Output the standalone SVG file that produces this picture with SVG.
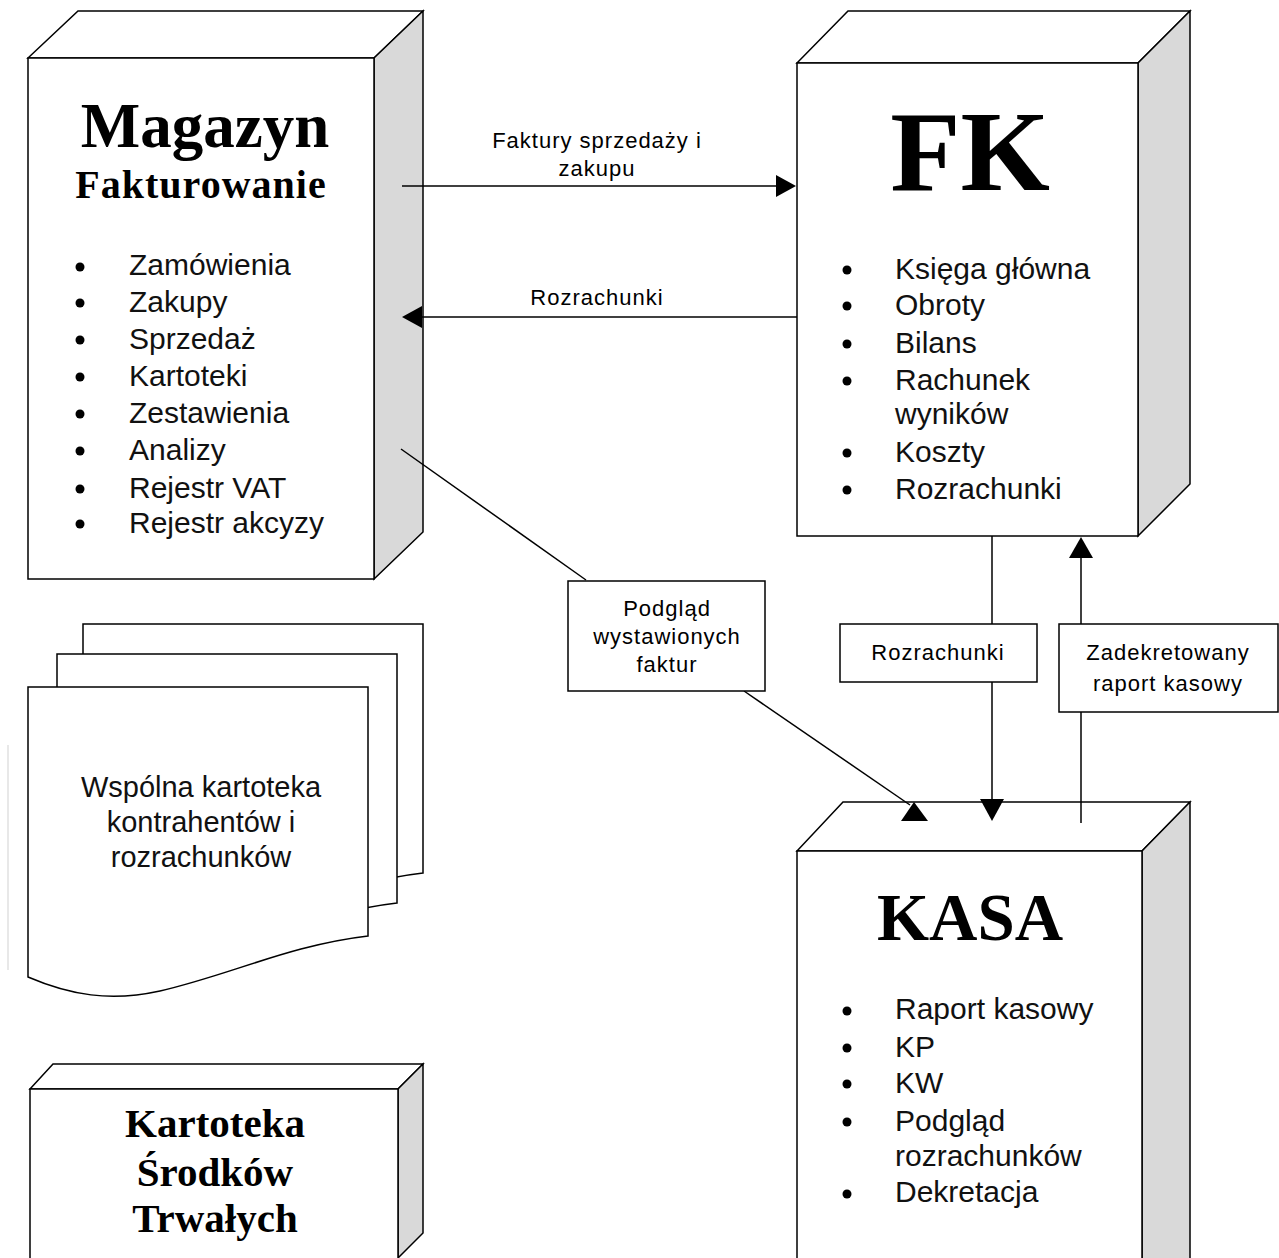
<svg xmlns="http://www.w3.org/2000/svg" width="1279" height="1258" viewBox="0 0 1279 1258">
<style>
.face{fill:#fff;stroke:#000;stroke-width:1.5}
.side{fill:#d9d9d9;stroke:#000;stroke-width:1.5}
.title{font-family:"Liberation Serif",serif;font-weight:bold;fill:#000;text-anchor:middle}
.item{font-family:"Liberation Sans",Arial,sans-serif;font-size:30px;fill:#111}
.lbl{font-family:"Liberation Sans",Arial,sans-serif;font-size:22px;letter-spacing:1px;fill:#000;text-anchor:middle}
.doc{font-family:"Liberation Sans",Arial,sans-serif;font-size:29px;fill:#111;text-anchor:middle}
.line{stroke:#000;stroke-width:1.5;fill:none}
.lbox{fill:#fff;stroke:#000;stroke-width:1.5}
.head{fill:#000}
</style>
<rect width="1279" height="1258" fill="#fff"/>
<line x1="8" y1="745" x2="8" y2="970" stroke="#e0e0e0" stroke-width="1.5"/>

<g id="magazyn">
<polygon class="face" points="28,58 78,11 423,11 374,58"/>
<polygon class="side" points="374,58 423,11 423,532 374,579"/>
<rect class="face" x="28" y="58" width="346" height="521"/>
<text class="title" x="205" y="147" font-size="63">Magazyn</text>
<text class="title" x="201" y="198" font-size="40" letter-spacing="1">Fakturowanie</text>
<g fill="#000">
<circle cx="80" cy="267" r="4.5"/><circle cx="80" cy="303" r="4.5"/><circle cx="80" cy="340" r="4.5"/><circle cx="80" cy="377" r="4.5"/>
<circle cx="80" cy="414" r="4.5"/><circle cx="80" cy="451" r="4.5"/><circle cx="80" cy="489" r="4.5"/><circle cx="80" cy="524" r="4.5"/>
</g>
<text class="item" x="129" y="275">Zamówienia</text>
<text class="item" x="129" y="312">Zakupy</text>
<text class="item" x="129" y="349">Sprzedaż</text>
<text class="item" x="129" y="386">Kartoteki</text>
<text class="item" x="129" y="423">Zestawienia</text>
<text class="item" x="129" y="460">Analizy</text>
<text class="item" x="129" y="498">Rejestr VAT</text>
<text class="item" x="129" y="533">Rejestr akcyzy</text>
</g>

<g id="fk">
<polygon class="face" points="797,63 848,11 1190,11 1138,63"/>
<polygon class="side" points="1138,63 1190,11 1190,484 1138,536"/>
<rect class="face" x="797" y="63" width="341" height="473"/>
<text class="title" x="970" y="190" font-size="115">FK</text>
<g fill="#000">
<circle cx="847" cy="270" r="4.5"/><circle cx="847" cy="306" r="4.5"/><circle cx="847" cy="344" r="4.5"/><circle cx="847" cy="381" r="4.5"/>
<circle cx="847" cy="453" r="4.5"/><circle cx="847" cy="490" r="4.5"/>
</g>
<text class="item" x="895" y="279">Księga główna</text>
<text class="item" x="895" y="315">Obroty</text>
<text class="item" x="895" y="353">Bilans</text>
<text class="item" x="895" y="390">Rachunek</text>
<text class="item" x="895" y="424">wyników</text>
<text class="item" x="895" y="462">Koszty</text>
<text class="item" x="895" y="499">Rozrachunki</text>
</g>

<g id="kasa">
<polygon class="face" points="797,851 843,802 1190,802 1142,851"/>
<polygon class="side" points="1142,851 1190,802 1190,1262 1142,1262"/>
<rect class="face" x="797" y="851" width="345" height="412"/>
<text class="title" x="970" y="940" font-size="67">KASA</text>
<g fill="#000">
<circle cx="847" cy="1011" r="4.5"/><circle cx="847" cy="1048" r="4.5"/><circle cx="847" cy="1084" r="4.5"/><circle cx="847" cy="1122" r="4.5"/>
<circle cx="847" cy="1194" r="4.5"/>
</g>
<text class="item" x="895" y="1019">Raport kasowy</text>
<text class="item" x="895" y="1057">KP</text>
<text class="item" x="895" y="1093">KW</text>
<text class="item" x="895" y="1131">Podgląd</text>
<text class="item" x="895" y="1166">rozrachunków</text>
<text class="item" x="895" y="1202">Dekretacja</text>
</g>

<g id="kartoteka-kontrahentow">
<defs>
<path id="docpage" d="M28,687 H368 V936 C 290,945 230,975 160,991 C 110,1002 70,995 28,977 Z"/>
</defs>
<use href="#docpage" transform="translate(55,-63)" class="face"/>
<use href="#docpage" transform="translate(29,-33)" class="face"/>
<use href="#docpage" class="face"/>
<text class="doc" x="201" y="797">Wspólna kartoteka</text>
<text class="doc" x="201" y="832">kontrahentów i</text>
<text class="doc" x="201" y="867">rozrachunków</text>
</g>

<g id="kartoteka-srodkow">
<polygon class="face" points="30,1089 53,1064 423,1064 398,1089"/>
<polygon class="side" points="398,1089 423,1064 423,1233 398,1258"/>
<rect class="face" x="30" y="1089" width="368" height="175"/>
<text class="title" x="215" y="1137" font-size="41">Kartoteka</text>
<text class="title" x="215" y="1186" font-size="41">Środków</text>
<text class="title" x="215" y="1232" font-size="41">Trwałych</text>
</g>

<g id="connectors">
<line class="line" x1="402" y1="186" x2="778" y2="186"/>
<polygon class="head" points="796,186 776,175 776,197"/>
<text class="lbl" x="597" y="148">Faktury sprzedaży i</text>
<text class="lbl" x="597" y="176">zakupu</text>

<line class="line" x1="797" y1="317" x2="420" y2="317"/>
<polygon class="head" points="402,317 422,306 422,328"/>
<text class="lbl" x="597" y="305">Rozrachunki</text>

<line class="line" x1="401" y1="449" x2="586" y2="580"/>
<line class="line" x1="744" y1="691" x2="910" y2="805"/>
<polygon class="head" points="914,802 901,821 928,821"/>
<g id="podglad">
<rect class="lbox" x="568" y="581" width="197" height="110"/>
<text class="lbl" x="667" y="616">Podgląd</text>
<text class="lbl" x="667" y="644">wystawionych</text>
<text class="lbl" x="667" y="672">faktur</text>
</g>

<line class="line" x1="992" y1="536" x2="992" y2="802"/>
<polygon class="head" points="992,821 980,799 1004,799"/>
<g id="rozrachunki-lbl">
<rect class="lbox" x="840" y="624" width="197" height="58"/>
<text class="lbl" x="938" y="660">Rozrachunki</text>
</g>

<line class="line" x1="1081" y1="823" x2="1081" y2="556"/>
<polygon class="head" points="1081,537 1069,558 1093,558"/>
<g id="zadekretowany-lbl">
<rect class="lbox" x="1059" y="624" width="219" height="88"/>
<text class="lbl" x="1168" y="660">Zadekretowany</text>
<text class="lbl" x="1168" y="691">raport kasowy</text>
</g>
</g>
</svg>
